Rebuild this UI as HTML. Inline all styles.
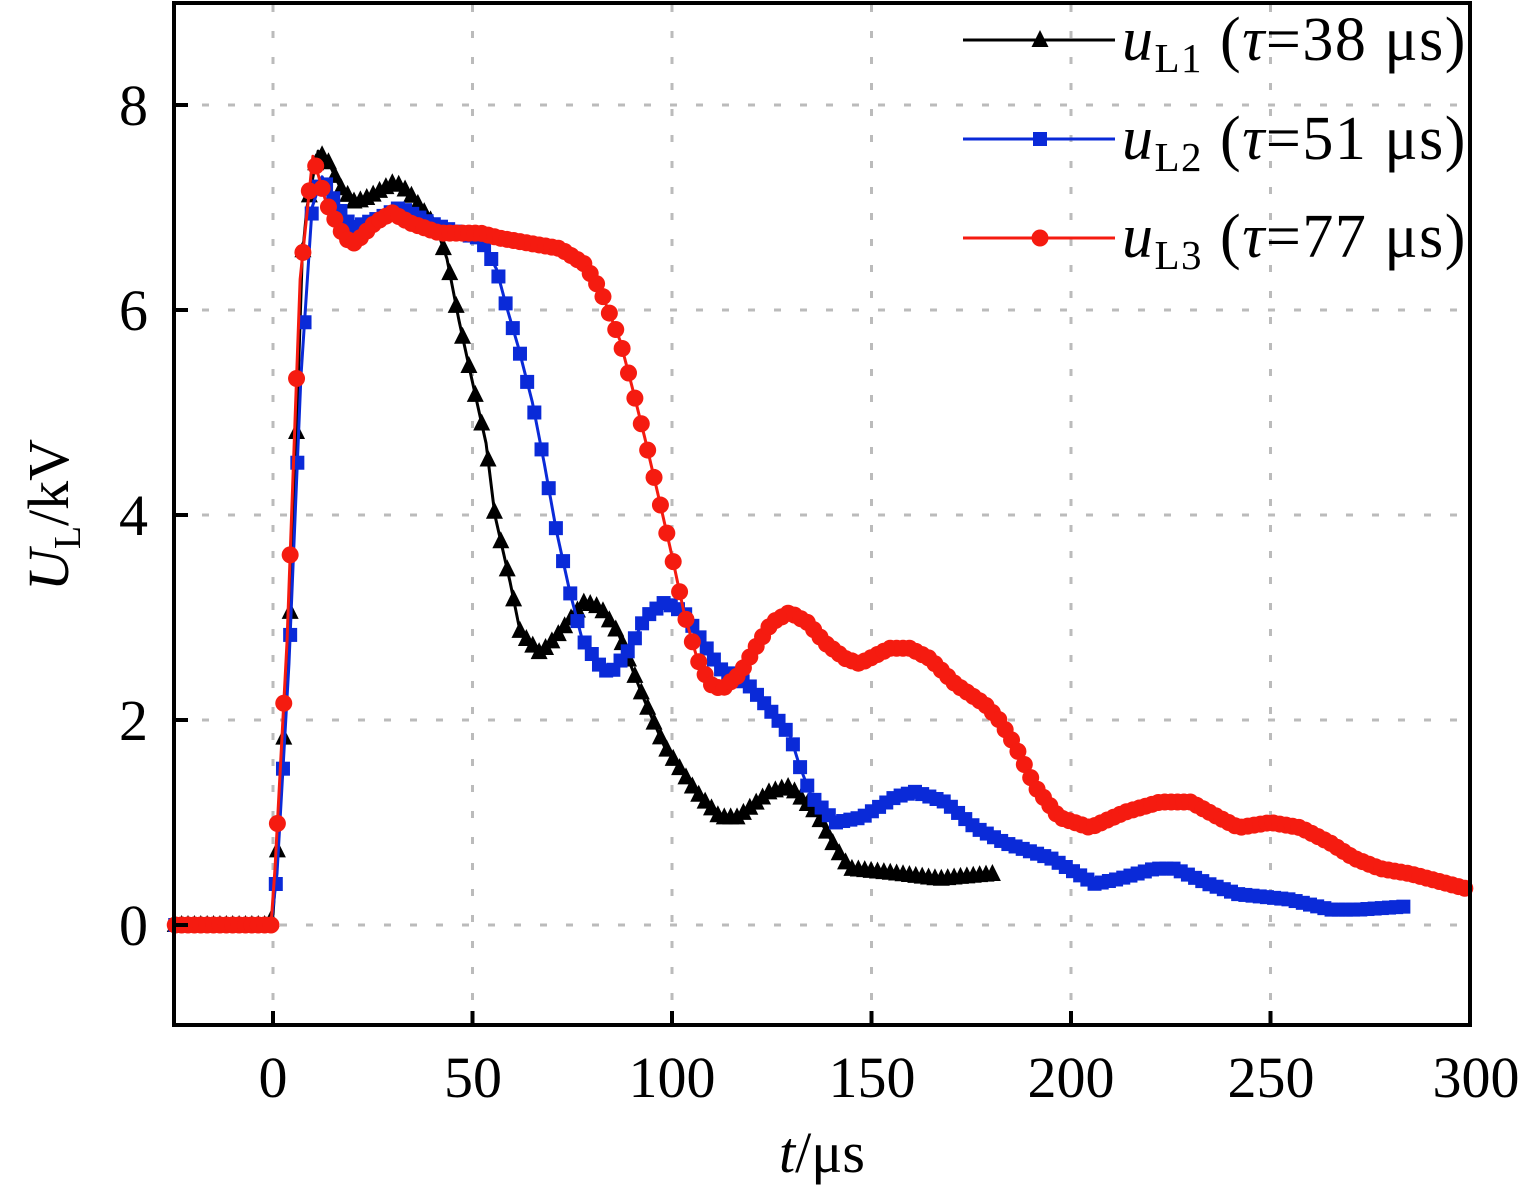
<!DOCTYPE html>
<html><head><meta charset="utf-8"><style>
html,body{margin:0;padding:0;background:#fff;}
svg{display:block;font-family:"Liberation Serif",serif;}
</style></head><body>
<svg id="s" width="1535" height="1192" viewBox="0 0 1535 1192" xmlns="http://www.w3.org/2000/svg">
<g id="grid" stroke="#bbb" stroke-width="3" stroke-dasharray="7,19"></g>
<g id="series"></g>
<rect x="174" y="3" width="1296" height="1022" fill="none" stroke="#000" stroke-width="4"/>
<g id="ticks" stroke="#000" stroke-width="4"></g>
<g font-size="58" fill="#000" text-anchor="middle">
<text x="273" y="1097">0</text><text x="473" y="1097">50</text><text x="672" y="1097">100</text>
<text x="872" y="1097">150</text><text x="1071" y="1097">200</text><text x="1271" y="1097">250</text><text x="1476" y="1097">300</text>
</g>
<g font-size="58" fill="#000" text-anchor="end">
<text x="148" y="945">0</text><text x="148" y="740">2</text><text x="148" y="535">4</text><text x="148" y="330">6</text><text x="148" y="125">8</text>
</g>
<text x="822" y="1172" font-size="58" text-anchor="middle"><tspan font-style="italic">t</tspan>/μs</text>
<text transform="translate(68,515) rotate(-90)" font-size="58" text-anchor="middle"><tspan font-style="italic">U</tspan><tspan font-size="38" dy="12">L</tspan><tspan dy="-12">/kV</tspan></text>
<g id="legend" font-size="62" letter-spacing="1.5">
<text x="1122" y="60"><tspan font-style="italic">u</tspan><tspan font-size="41" dy="12">L1</tspan><tspan dy="-12"> (</tspan><tspan font-style="italic">τ</tspan>=38 μs)</text>
<text x="1122" y="159"><tspan font-style="italic">u</tspan><tspan font-size="41" dy="12">L2</tspan><tspan dy="-12"> (</tspan><tspan font-style="italic">τ</tspan>=51 μs)</text>
<text x="1122" y="257"><tspan font-style="italic">u</tspan><tspan font-size="41" dy="12">L3</tspan><tspan dy="-12"> (</tspan><tspan font-style="italic">τ</tspan>=77 μs)</text>
</g>
</svg>
<script>
const NS="http://www.w3.org/2000/svg";
const X=t=>273+t*3.99, Y=v=>925-v*102.5;
function el(p,n,a){const e=document.createElementNS(NS,n);for(const k in a)e.setAttribute(k,a[k]);p.appendChild(e);return e;}
const g=document.getElementById('grid'),tk=document.getElementById('ticks');
[0,50,100,150,200,250].forEach(t=>el(g,'line',{x1:X(t),x2:X(t),y1:5,y2:1023}));
[0,2,4,6,8].forEach(v=>el(g,'line',{x1:176,x2:1468,y1:Y(v),y2:Y(v)}));
[0,50,100,150,200,250].forEach(t=>el(tk,'line',{x1:X(t),x2:X(t),y1:1025,y2:1011}));
[0,2,4,6,8].forEach(v=>el(tk,'line',{x1:174,x2:188,y1:Y(v),y2:Y(v)}));
const L1=[[-25,0],[-1,0],[0,0.1],[1.75,1.1],[4.75,3.4],[6.3,5.3],[7.3,6.5],[8.5,7.0],[11.3,7.55],[13.8,7.45],[16.8,7.2],[20.5,7.05],[24,7.1],[30.5,7.25],[34,7.15],[41,6.8],[43.6,6.5],[46.6,5.9],[49.4,5.4],[53.4,4.7],[55.6,4.0],[59.4,3.35],[62,2.85],[67,2.65],[70.7,2.8],[78,3.15],[82,3.1],[86.5,2.85],[93,2.2],[98,1.75],[106,1.3],[112,1.05],[116.5,1.05],[124.5,1.3],[129.5,1.35],[136,1.1],[141,0.75],[144.6,0.55],[157,0.5],[167,0.45],[181,0.5]];
const L2=[[-25,0],[-0.5,0],[1,0.5],[4,2.55],[7,5.35],[9.8,7.0],[12.3,7.3],[16.3,7.0],[19.8,6.8],[26.8,6.9],[31.8,7.0],[39.3,6.85],[46.8,6.75],[52,6.7],[56,6.4],[58.4,6.05],[61.4,5.65],[65,5.1],[68,4.5],[71,3.85],[74.4,3.25],[77.4,2.8],[81.4,2.55],[84.5,2.45],[89.5,2.7],[93.2,3.0],[98.2,3.15],[103,3.05],[107,2.8],[112,2.5],[119,2.35],[124.5,2.1],[129.6,1.85],[132,1.55],[135,1.25],[141,1.0],[147.6,1.05],[156,1.25],[161,1.3],[168.5,1.2],[176,0.95],[183.5,0.8],[195,0.65],[206,0.4],[212,0.45],[221,0.55],[226,0.55],[234.5,0.4],[242,0.3],[254.6,0.25],[265,0.15],[272,0.15],[283.7,0.18]];
const L3=[[-25,0],[-0.5,0],[0.5,0.55],[3.5,2.75],[6.8,6.3],[10,7.5],[13.3,7.05],[18,6.7],[20.5,6.65],[25.5,6.85],[29.8,6.95],[34.3,6.85],[41.8,6.75],[52,6.75],[57,6.7],[64.4,6.65],[71.9,6.6],[78,6.45],[82,6.2],[87,5.7],[90,5.25],[93.2,4.75],[96.5,4.2],[100,3.6],[103,3.05],[106.3,2.6],[109.5,2.35],[112.5,2.3],[117,2.45],[120.8,2.7],[125,2.95],[129.5,3.05],[134,2.95],[138.4,2.75],[143.4,2.6],[147,2.55],[154.6,2.7],[159.6,2.7],[164.6,2.6],[171,2.35],[178.5,2.15],[182,2.0],[186,1.75],[191,1.35],[197,1.05],[204.8,0.95],[213.5,1.1],[222.3,1.2],[230,1.2],[237,1.05],[242,0.95],[250,1.0],[257.5,0.95],[265,0.8],[271,0.65],[277.5,0.55],[285,0.5],[299.5,0.35]];
function interp(d,t){for(let i=1;i<d.length;i++){if(t<=d[i][0]){const a=d[i-1],b=d[i];return a[1]+(b[1]-a[1])*(t-a[0])/(b[0]-a[0]);}}return d[d.length-1][1];}
const S=document.getElementById('series');
function marker(p,type,x,y,c){
 if(type==='tri')el(p,'polygon',{points:`${x},${y-10} ${x-8.5},${y+7} ${x+8.5},${y+7}`,fill:c});
 else if(type==='sq')el(p,'rect',{x:x-7,y:y-7,width:14,height:14,fill:c});
 else el(p,'circle',{cx:x,cy:y,r:8.5,fill:c});
}
function draw(d,c,type,step){
 el(S,'polyline',{points:d.map(p=>X(p[0])+','+Y(p[1])).join(' '),fill:'none',stroke:c,'stroke-width':3,'stroke-linejoin':'round'});
 const t0=d[0][0],t1=d[d.length-1][0];
 for(let t=t0+0.5;t<=t1;t+=step)marker(S,type,X(t),Y(interp(d,t)),c);
}
draw(L1,'#000','tri',1.6);
draw(L2,'#0a2ad8','sq',1.8);
draw(L3,'#f51b10','circ',1.6);
const lg=document.getElementById('legend');
[[40,'#000','tri'],[139,'#0a2ad8','sq'],[238,'#f51b10','circ']].forEach(([y,c,t])=>{
 el(lg,'line',{x1:963,x2:1115,y1:y,y2:y,stroke:c,'stroke-width':3});marker(lg,t,1040,y,c);});
</script>
</body></html>
